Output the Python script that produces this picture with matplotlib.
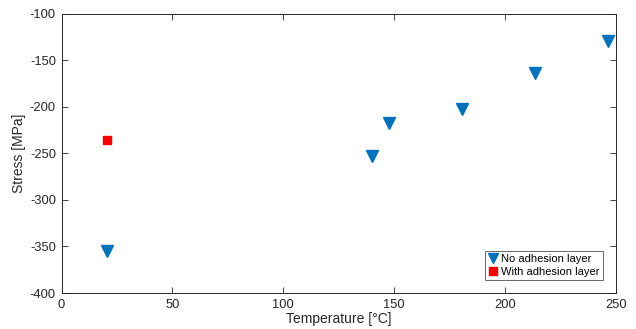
import numpy as np
import matplotlib.pyplot as plt

plt.rcParams['font.family'] = ['Liberation Sans', 'DejaVu Sans']
plt.rcParams['font.size'] = 9
plt.rcParams['axes.unicode_minus'] = False

# data
temp_no = [20.5, 140, 147.5, 180.5, 213.5, 246.5]
stress_no = [-355, -253, -217, -203, -164, -130]
temp_with = [20.5]
stress_with = [-236]

fig = plt.figure(figsize=(6.36, 3.29), dpi=100)
ax = fig.add_axes([0.0967, 0.1094, 0.8719, 0.8495])

ax.plot(temp_no, stress_no, 'v', color='#0072BD', markersize=8, label='No adhesion layer')
ax.plot(temp_with, stress_with, 's', color='#FF0000', markersize=5.5, label='With adhesion layer')

ax.set_xlim(0, 250)
ax.set_ylim(-400, -100)
ax.set_xticks(np.arange(0, 251, 50))
ax.set_yticks(np.arange(-400, -99, 50))
ax.tick_params(direction='in', top=True, right=True, length=4, width=0.6,
               colors='#262626', labelsize=9.3, pad=4)
for s in ax.spines.values():
    s.set_color('#262626')
    s.set_linewidth(0.7)

ax.set_xlabel('Temperature [°C]', fontsize=10, color='#262626', labelpad=1)
ax.set_ylabel('Stress [MPa]', fontsize=10, color='#262626', labelpad=3)

leg = ax.legend(loc='lower right', fontsize=8, frameon=True, fancybox=False,
                edgecolor='#262626', handlelength=0.9, handletextpad=0.3,
                borderpad=0.25, labelspacing=0.3, borderaxespad=1.2,
                markerscale=0.95)
leg.get_frame().set_linewidth(0.6)

fig.savefig('out.png', dpi=100)
